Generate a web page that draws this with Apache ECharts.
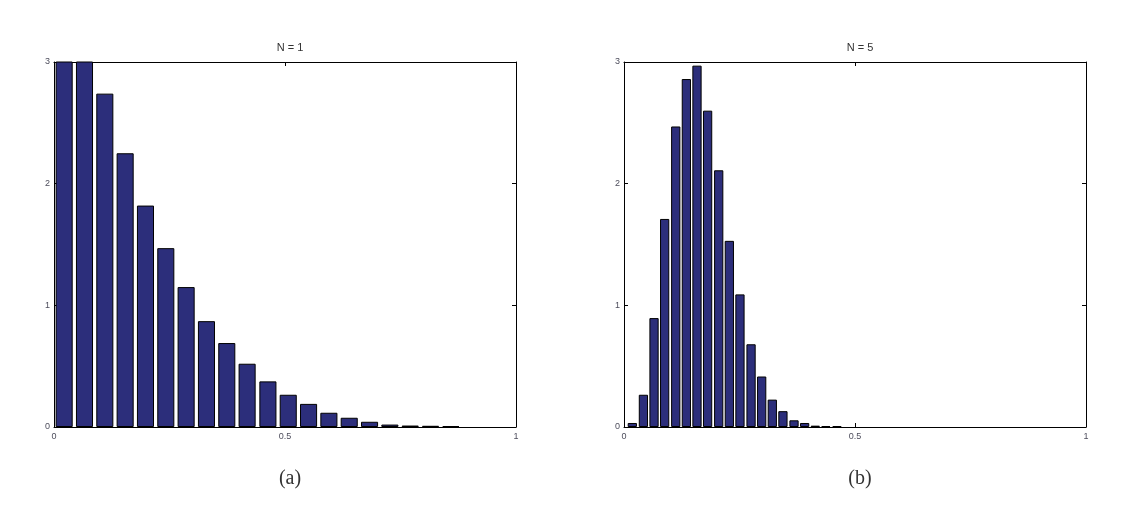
<!DOCTYPE html>
<html><head><meta charset="utf-8">
<script src="https://cdn.jsdelivr.net/npm/echarts@6/dist/echarts.min.js"></script>
<style>html,body{margin:0;padding:0;background:#fff}#c{width:1124px;height:506px}</style>
</head><body><div id="c"></div>
<script>
// Panel (a): N = 1
const binCentersA = [0.022,0.066,0.110,0.154,0.198,0.242,0.286,0.330,0.374,0.418,0.463,0.507,0.551,0.595,0.639,0.683,0.727,0.771,0.815,0.859];
const densityA = [3.7,3.2,2.74,2.25,1.82,1.47,1.15,0.87,0.69,0.52,0.375,0.265,0.19,0.117,0.076,0.043,0.02,0.012,0.01,0.008];
// Panel (b): N = 5
const binCentersB = [0.018,0.042,0.065,0.088,0.112,0.135,0.158,0.181,0.205,0.228,0.251,0.275,0.298,0.321,0.344,0.368,0.391,0.414,0.437,0.461];
const densityB = [0.033,0.265,0.895,1.71,2.47,2.86,2.97,2.60,2.11,1.53,1.09,0.68,0.415,0.225,0.13,0.055,0.033,0.011,0.008,0.007];
const titles = ['N = 1','N = 5'];
const captions = ['(a)','(b)'];
const xTicks = [0,0.5,1];
const yTicks = [0,1,2,3];

const chart = echarts.init(document.getElementById('c'));
const grids = [
  {left:54, top:62, width:462, height:365},
  {left:624, top:62, width:462, height:365}
];
const labelStyle = {color:'#4d4d5c', fontSize:9, fontFamily:'Liberation Sans, Arial, sans-serif'};
const xAxes = [], yAxes = [];
grids.forEach((g,i)=>{
  xAxes.push({type:'value', gridIndex:i, min:xTicks[0], max:xTicks[2], interval:0.5, position:'bottom',
    axisLine:{show:true, onZero:false, lineStyle:{color:'#000', width:1}},
    axisTick:{show:true, inside:true, length:4, lineStyle:{color:'#000'}},
    axisLabel:Object.assign({margin:5}, labelStyle), splitLine:{show:false}});
  xAxes.push({type:'value', gridIndex:i, min:xTicks[0], max:xTicks[2], interval:0.5, position:'top',
    axisLine:{show:true, onZero:false, lineStyle:{color:'#000', width:1}},
    axisTick:{show:true, inside:true, length:4, lineStyle:{color:'#000'}},
    axisLabel:{show:false}, splitLine:{show:false}});
  yAxes.push({type:'value', gridIndex:i, min:yTicks[0], max:yTicks[3], interval:1, position:'left',
    axisLine:{show:true, onZero:false, lineStyle:{color:'#000', width:1}},
    axisTick:{show:true, inside:true, length:4, lineStyle:{color:'#000'}},
    axisLabel:Object.assign({margin:4}, labelStyle), splitLine:{show:false}});
  yAxes.push({type:'value', gridIndex:i, min:yTicks[0], max:yTicks[3], interval:1, position:'right',
    axisLine:{show:true, onZero:false, lineStyle:{color:'#000', width:1}},
    axisTick:{show:true, inside:true, length:4, lineStyle:{color:'#000'}},
    axisLabel:{show:false}, splitLine:{show:false}});
});
const barStyle = {color:'#2c2e7b', borderColor:'#000', borderWidth:1};
const mk = (xs, ys) => xs.map((x,i)=>[x, ys[i]]);
chart.setOption({
  animation:false,
  backgroundColor:'#fff',
  title: titles.map((t,i)=>({text:t, left:grids[i].left + grids[i].width/2, top:37, textAlign:'center',
    textStyle:{fontSize:11, fontWeight:'normal', color:'#333', fontFamily:'Liberation Sans, Arial, sans-serif'}}))
    .concat(captions.map((t,i)=>({text:t, left:grids[i].left + grids[i].width/2, top:464, textAlign:'center',
    textStyle:{fontSize:20, fontWeight:'normal', color:'#333', fontFamily:'Liberation Serif, Times New Roman, serif'}}))),
  grid: grids,
  xAxis: xAxes,
  yAxis: yAxes,
  series: [
    {type:'bar', xAxisIndex:0, yAxisIndex:0, data:mk(binCentersA, densityA), barWidth:'84%', itemStyle:barStyle, clip:true},
    {type:'bar', xAxisIndex:2, yAxisIndex:2, data:mk(binCentersB, densityB), barWidth:'87%', itemStyle:barStyle, clip:true}
  ]
});
</script></body></html>
